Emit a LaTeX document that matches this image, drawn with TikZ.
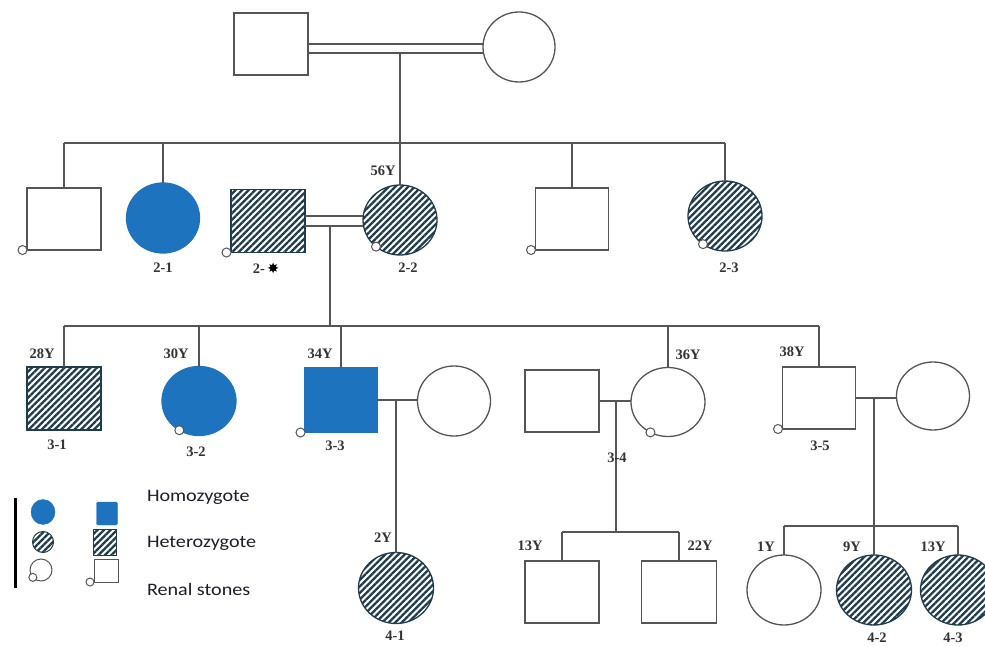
\documentclass[tikz,border=0pt]{standalone}
\usepackage{fontspec}
\setmainfont{Liberation Serif}
\newfontfamily\legendfont[FakeStretch=1.15]{Carlito}
\newfontfamily\symfont{DejaVu Sans}
\usetikzlibrary{patterns.meta,calc,shapes.geometric}
\definecolor{affblue}{HTML}{1E73BE}
\definecolor{hatchc}{HTML}{1F3C4C}
\definecolor{linec}{HTML}{555555}
\definecolor{labelc}{HTML}{333333}
\definecolor{legendc}{HTML}{1C1C2A}

\begin{document}
\begin{tikzpicture}[x=1pt,y=-1pt,
  every node/.style={inner sep=0pt,outer sep=0pt},
  male/.style={rectangle,draw=linec,line width=1.3pt,minimum width=74pt,minimum height=62pt},
  female/.style={ellipse,draw=linec,line width=1.3pt,minimum width=74pt,minimum height=70pt},
  homo/.style={fill=affblue,draw=affblue},
  hetero/.style={draw=hatchc,pattern={Lines[angle=45,distance=4.6pt,line width=2.3pt]},pattern color=hatchc},
  stone/.style={circle,draw=linec,fill=white,line width=1pt,minimum size=9pt},
  conn/.style={draw=linec,line width=1.4pt},
  lab/.style={font=\bfseries\fontsize{14.5}{14.5}\selectfont,text=labelc},
  legtext/.style={font=\legendfont\fontsize{17.5}{17.5}\selectfont,text=legendc,anchor=west}]

\clip (0,0) rectangle (985,647);

% ---------- generation I ----------
\node[male]   (F1) at (271,44) {};
\node[female,minimum width=72pt] (M1) at (519,47) {};
\draw[conn] (F1.east) -- (F1.east -| M1.west);
\draw[conn] ($(F1.east)+(0,9)$) -- ($(F1.east -| M1.west)+(0,9)$);
\coordinate (g1) at (400,53);

% ---------- generation II ----------
\node[male]              (A) at (64,219) {};
\node[female,homo,minimum width=73pt] (B) at (163,218) {};
\node[male,hetero,minimum height=63pt] (C) at (268,221) {};
\node[female,hetero]     (D) at (400,220) {};
\node[male,minimum width=73pt] (E) at (572,219) {};
\node[female,hetero]     (G) at (725,216) {};

\coordinate (s2L) at (64,143);
\coordinate (s2R) at (725,143);
\draw[conn] (g1) -- (g1 |- s2L);
\draw[conn] (s2L) -- (s2R);
\foreach \n in {A,B,D,E,G} \draw[conn] (\n.north) -- (\n.north |- s2L);

% consanguineous union of 2-* and 2-2
\draw[conn] ($(C.east)+(0,-5)$) -- ($(C.east -| D.west)+(0,-5)$);
\draw[conn] ($(C.east)+(0,5)$) -- ($(C.east -| D.west)+(0,5)$);
\coordinate (g2) at (330,226);

% ---------- generation III ----------
\node[male,hetero,minimum height=63pt] (H) at (64,398.5) {};
\node[female,homo,minimum height=69pt] (I) at (199,401) {};
\node[male,homo,minimum width=72pt,minimum height=65pt] (J) at (341,400) {};
\node[female,minimum width=73pt] (K) at (454,401) {};
\node[male]   (L) at (562,401) {};
\node[female,minimum height=69pt] (M) at (668,402) {};
\node[male,minimum width=73pt] (N) at (819,398) {};
\node[female,minimum width=73pt,minimum height=68pt] (O) at (933,396) {};

\coordinate (s3L) at (64,326);
\coordinate (s3R) at (819,326);
\draw[conn] (g2) -- (g2 |- s3L);
\draw[conn] (s3L) -- (s3R);
\foreach \n in {H,I,J,M,N} \draw[conn] (\n.north) -- (\n.north |- s3L);

\draw[conn] (J.east) -- (J.east -| K.west);
\draw[conn] (L.east) -- (L.east -| M.west);
\draw[conn] (N.east) -- (N.east -| O.west);
\coordinate (g3) at (396,400);
\coordinate (g4) at (616,401);
\coordinate (g5) at (874,398);

% ---------- generation IV ----------
\node[female,hetero,minimum width=75pt,minimum height=71pt] (P) at (396,588) {};
\node[male]   (Q) at (562,592) {};
\node[male,minimum width=75pt] (R) at (679,592) {};
\node[female] (S) at (784,590) {};
\node[female,hetero,minimum width=75pt] (T) at (874,590) {};
\node[female,hetero,minimum width=75pt] (U) at (958,590) {};

\draw[conn] (g3) -- (g3 |- P.north);

\coordinate (s4a) at (616,532);
\draw[conn] (g4) -- (s4a);
\draw[conn] (Q.north |- s4a) -- (R.north |- s4a);
\foreach \n in {Q,R} \draw[conn] (\n.north) -- (\n.north |- s4a);

\coordinate (s4b) at (874,526);
\draw[conn] (g5) -- (s4b);
\draw[conn] (S.north |- s4b) -- (U.north |- s4b);
\foreach \n in {S,T,U} \draw[conn] (\n.north) -- (\n.north |- s4b);

% ---------- renal stone markers ----------
\foreach \n in {A,C,E,J,N} \node[stone,anchor=east] (st\n) at (\n.south west) {};
\node[stone] (stD) at (D.228) {};
\node[stone] (stG) at (G.232) {};
\node[stone] (stI) at (I.236) {};
\node[stone] (stM) at (M.240) {};

% ---------- labels ----------
\node[lab] (t21) at (163,268) {2-1};
\node[lab] (t2x) at (266,268) {2-\,{\normalfont\symfont\fontsize{14}{14}\selectfont\color{black}✸}};
\node[lab] (t22) at (408,268) {2-2};
\node[lab] (t23) at (729,268) {2-3};
\node[lab] (a56) at (383,171) {56Y};

\node[lab] (a28) at (42,354) {28Y};
\node[lab] (a30) at (176,354) {30Y};
\node[lab] (a34) at (320,354) {34Y};
\node[lab] (a36) at (688,355) {36Y};
\node[lab] (a38) at (792,352) {38Y};
\node[lab] (t31) at (57,445) {3-1};
\node[lab] (t32) at (196,452) {3-2};
\node[lab] (t33) at (335,446) {3-3};
\node[lab] (t34) at (617,458) {3-4};
\node[lab] (t35) at (820,446) {3-5};

\node[lab] (a2)  at (383,538) {2Y};
\node[lab] (a13) at (530,546) {13Y};
\node[lab] (a22) at (700,546) {22Y};
\node[lab] (a1)  at (766,547) {1Y};
\node[lab] (a9)  at (852,547) {9Y};
\node[lab] (a13b) at (933,547) {13Y};
\node[lab] (t41) at (395,636) {4-1};
\node[lab] (t42) at (877,638) {4-2};
\node[lab] (t43) at (953,638) {4-3};

% ---------- legend ----------
\draw[line width=3pt,black] (15,498) -- (15,588);
\node[ellipse,homo,minimum width=24pt,minimum height=25pt] (lc1) at (43,512) {};
\node[rectangle,homo,rounded corners=2pt,minimum width=21pt,minimum height=23pt] (ls1) at (107,513.5) {};
\node[ellipse,hetero,line width=1pt,minimum width=21pt,minimum height=21pt] (lc2) at (43,542) {};
\node[rectangle,hetero,line width=1pt,minimum width=23pt,minimum height=26pt] (ls2) at (104.5,542) {};
\node[ellipse,draw=linec,line width=1pt,minimum width=22pt,minimum height=22pt] (lc3) at (41,570) {};
\node[stone,minimum size=8pt] (lst1) at (lc3.222) {};
\node[rectangle,draw=linec,line width=1pt,minimum width=24pt,minimum height=23pt] (ls3) at (106,570.5) {};
\node[stone,minimum size=8pt,anchor=east] (lst2) at (ls3.south west) {};
\node[legtext] (lh1) at (147,497) {Homozygote};
\node[legtext] (lh2) at (147,543) {Heterozygote};
\node[legtext] (lh3) at (147,589) {Renal stones};
\end{tikzpicture}
\end{document}
